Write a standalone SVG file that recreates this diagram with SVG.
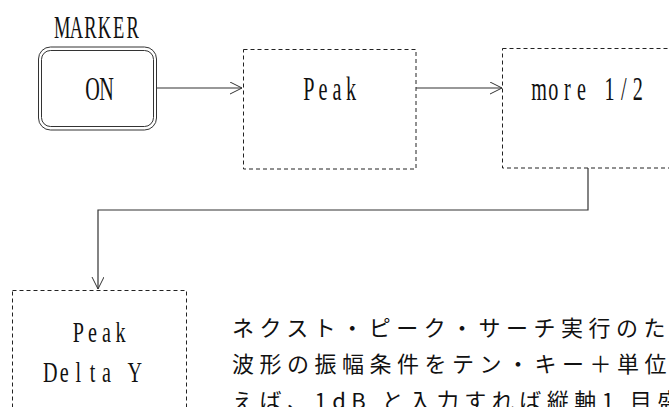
<svg xmlns="http://www.w3.org/2000/svg" width="669" height="407" viewBox="0 0 669 407">
<style>
.lbl{font-family:"Liberation Serif","DejaVu Serif",serif;font-size:28px;fill:#111;text-anchor:middle}
.box{fill:none;stroke:#222;stroke-width:1;stroke-dasharray:4 3}
.dbl{fill:none;stroke:#333;stroke-width:1}
.conn{fill:none;stroke:#333;stroke-width:1.2}
.jp{font-family:"Noto Sans CJK JP","Noto Sans CJK SC",sans-serif;font-size:22px;letter-spacing:5.5px;fill:#111}
</style>
<defs>
<marker id="arr" markerUnits="userSpaceOnUse" markerWidth="16" markerHeight="16" refX="12" refY="6" orient="auto">
<path d="M0,0 L12,6 L0,12" fill="none" stroke="#333" stroke-width="1"/>
</marker>
</defs>
<rect width="669" height="407" fill="#fff"/>
<g id="marker-label">
<text class="lbl" transform="translate(97.5,38) scale(0.66,1.15)" x="-53.4 -32.05 -10.68 10.68 32.05 53.4" y="0">MARKER</text>
</g>
<g id="node-on">
<rect class="dbl" x="38.5" y="47" width="118" height="83" rx="12"/>
<rect class="dbl" x="41.5" y="50.5" width="112" height="76" rx="9"/>
<text class="lbl" transform="translate(99.5,100) scale(0.72,1.19)" x="-9.79 9.79" y="0">ON</text>
</g>
<g id="node-peak">
<rect class="box" x="243.5" y="49.5" width="172.5" height="119.5"/>
<text class="lbl" transform="translate(330,100) scale(0.72,1.19)" x="-29.38 -9.79 9.79 29.38" y="0">Peak</text>
</g>
<g id="node-more">
<rect class="box" x="502.5" y="48.5" width="200" height="119.5" stroke-dasharray="3 4"/>
<text class="lbl" transform="translate(588.5,100) scale(0.72,1.19)" x="-68.54 -48.96 -29.38 -9.79 9.79 29.38 48.96 68.54" y="0">more 1/2</text>
</g>
<g id="node-peak-delta-y">
<rect class="box" x="12.5" y="290.5" width="174" height="140"/>
<text class="lbl" transform="translate(99.5,342) scale(0.72,1.08)" x="-29.38 -9.79 9.79 29.38" y="0">Peak</text>
<text class="lbl" transform="translate(92.5,382) scale(0.72,1.08)" x="-58.75 -39.17 -19.58 0 19.58 39.17 58.75" y="0">Delta Y</text>
</g>
<g id="connectors">
<path class="conn" d="M157,88 L242,88" marker-end="url(#arr)"/>
<path class="conn" d="M416,88 L502,88" marker-end="url(#arr)"/>
<path class="conn" d="M588,168 L588,210 L98,210 L98,289" marker-end="url(#arr)"/>
</g>
<g id="description">
<text class="jp" x="232" y="336">ネクスト・ピーク・サーチ実行のた</text>
<text class="jp" x="232" y="372">波形の振幅条件をテン・キー＋単位</text>
<text class="jp" x="232" y="409">えば、1dB と入力すれば縦軸1 目盛</text>
</g>
</svg>
